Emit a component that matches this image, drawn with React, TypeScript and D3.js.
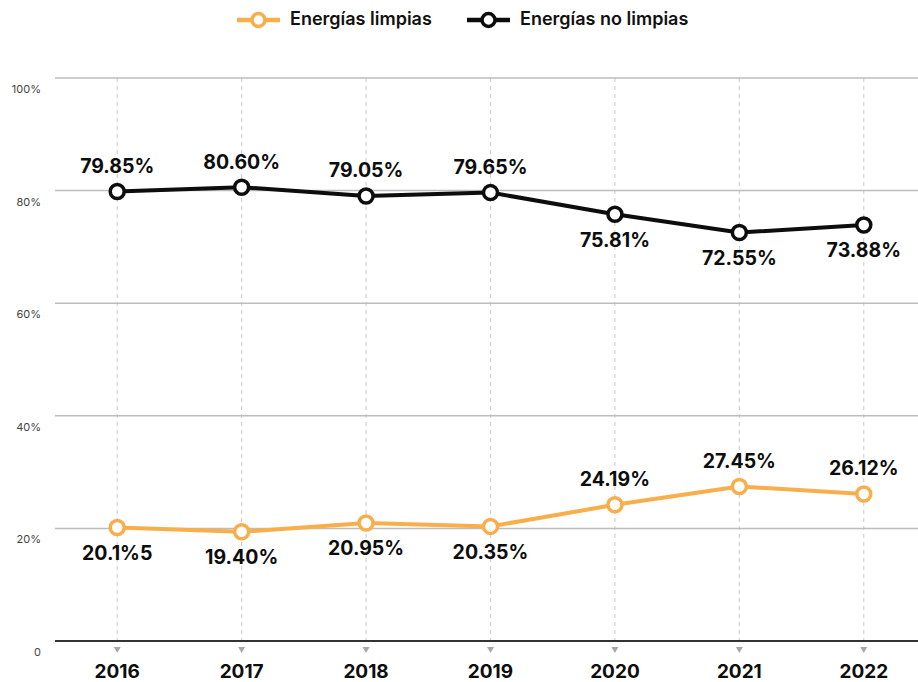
import React, { useRef, useEffect } from 'react';
import * as d3 from 'd3';

const years = ['2016', '2017', '2018', '2019', '2020', '2021', '2022'];
const cleanValues = [20.15, 19.4, 20.95, 20.35, 24.19, 27.45, 26.12];
const cleanLabels = ['20.1%5', '19.40%', '20.95%', '20.35%', '24.19%', '27.45%', '26.12%'];
const cleanLabelAbove = [false, false, false, false, true, true, true];
const dirtyValues = [79.85, 80.6, 79.05, 79.65, 75.81, 72.55, 73.88];
const dirtyLabels = ['79.85%', '80.60%', '79.05%', '79.65%', '75.81%', '72.55%', '73.88%'];
const dirtyLabelAbove = [true, true, true, true, false, false, false];
const yTicks = [0, 20, 40, 60, 80, 100];
const yTickLabels = ['0', '20%', '40%', '60%', '80%', '100%'];
const seriesNames = ['Energías limpias', 'Energías no limpias'];

const ORANGE = '#f7ae4b';
const BLACK = '#0d0d0d';
const FONT = 'Inter, "Noto Sans", sans-serif';

function App() {
  const ref = useRef<SVGSVGElement | null>(null);
  const width = 918;
  const height = 682;

  useEffect(() => {
    if (!ref.current) return;
    const svg = d3.select(ref.current);
    svg.selectAll('*').remove();

    const x = d3.scalePoint<string>().domain(years).range([55, 926]).padding(0.5);
    const y = d3.scaleLinear().domain([0, 100]).range([641, 78]);

    // vertical dashed guides
    const guides = svg.append('g');
    years.forEach((yr) => {
      guides
        .append('line')
        .attr('x1', x(yr)!)
        .attr('x2', x(yr)!)
        .attr('y1', y(100))
        .attr('y2', 646)
        .attr('stroke', '#c8c8c8')
        .attr('stroke-width', 1)
        .attr('stroke-dasharray', '4,4');
      guides
        .append('path')
        .attr('d', `M${x(yr)! - 3.5},647 L${x(yr)! + 3.5},647 L${x(yr)!},653 Z`)
        .attr('fill', '#a8a8a8');
    });

    // horizontal grid
    const grid = svg.append('g');
    yTicks.forEach((t, i) => {
      grid
        .append('line')
        .attr('x1', 55)
        .attr('x2', width)
        .attr('y1', y(t))
        .attr('y2', y(t))
        .attr('stroke', t === 0 ? '#333' : '#bdbdbd')
        .attr('stroke-width', t === 0 ? 2 : 1.5);
      grid
        .append('text')
        .attr('x', 41)
        .attr('y', y(t) + 12)
        .attr('text-anchor', 'end')
        .attr('dominant-baseline', 'middle')
        .attr('font-family', FONT)
        .attr('font-size', 11)
        .attr('fill', '#444')
        .text(yTickLabels[i]);
    });

    // x labels
    svg
      .append('g')
      .selectAll('text')
      .data(years)
      .join('text')
      .attr('x', (d) => x(d)!)
      .attr('y', 673)
      .attr('text-anchor', 'middle')
      .attr('dominant-baseline', 'middle')
      .attr('font-family', FONT)
      .attr('font-weight', 700)
      .attr('font-size', 19)
      .attr('fill', BLACK)
      .text((d) => d);

    const line = d3
      .line<number>()
      .x((_, i) => x(years[i])!)
      .y((d) => y(d));

    const drawSeries = (values: number[], labels: string[], above: boolean[], color: string) => {
      const g = svg.append('g');
      g.append('path')
        .attr('d', line(values)!)
        .attr('fill', 'none')
        .attr('stroke', color)
        .attr('stroke-width', 4)
        .attr('stroke-linejoin', 'round');
      g.selectAll('circle')
        .data(values)
        .join('circle')
        .attr('cx', (_, i) => x(years[i])!)
        .attr('cy', (d) => y(d))
        .attr('r', 7)
        .attr('fill', '#fff')
        .attr('stroke', color)
        .attr('stroke-width', 3.5);
      g.selectAll('text')
        .data(values)
        .join('text')
        .attr('x', (_, i) => x(years[i])!)
        .attr('y', (d, i) => y(d) + (above[i] ? -24 : 27))
        .attr('text-anchor', 'middle')
        .attr('dominant-baseline', 'middle')
        .attr('font-family', FONT)
        .attr('font-weight', 700)
        .attr('font-size', 19.5)
        .attr('fill', BLACK)
        .text((_, i) => labels[i]);
    };

    drawSeries(dirtyValues, dirtyLabels, dirtyLabelAbove, BLACK);
    drawSeries(cleanValues, cleanLabels, cleanLabelAbove, ORANGE);

    // legend
    const legend = svg.append('g');
    const items = [
      { name: seriesNames[0], color: ORANGE, x0: 237, tx: 290 },
      { name: seriesNames[1], color: BLACK, x0: 467, tx: 520 },
    ];
    items.forEach((it) => {
      legend
        .append('line')
        .attr('x1', it.x0)
        .attr('x2', it.x0 + 43)
        .attr('y1', 20)
        .attr('y2', 20)
        .attr('stroke', it.color)
        .attr('stroke-width', 4.5);
      legend
        .append('circle')
        .attr('cx', it.x0 + 21.5)
        .attr('cy', 20)
        .attr('r', 6.5)
        .attr('fill', '#fff')
        .attr('stroke', it.color)
        .attr('stroke-width', 3.5);
      legend
        .append('text')
        .attr('x', it.tx)
        .attr('y', 20)
        .attr('dominant-baseline', 'middle')
        .attr('font-family', FONT)
        .attr('font-weight', 600)
        .attr('font-size', 18)
        .attr('fill', '#111')
        .text(it.name);
    });
  }, []);

  return (
    <svg
      ref={ref}
      width={width}
      height={height}
      style={{ position: 'absolute', left: 0, top: 0, display: 'block', background: '#fff' }}
    />
  );
}

export default App;
